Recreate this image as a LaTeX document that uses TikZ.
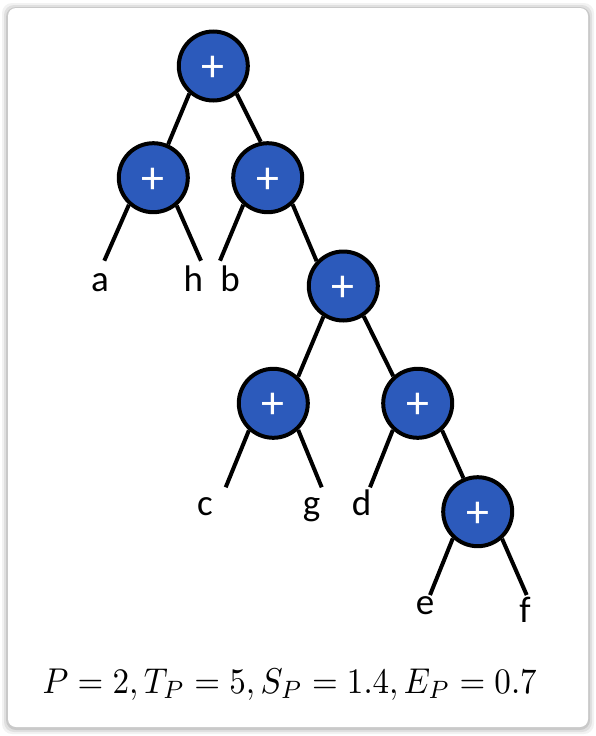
\documentclass[tikz,border=0pt]{standalone}
\usepackage{fontspec}
\setmainfont{Carlito}
\usepackage{graphicx}
\definecolor{nodeblue}{RGB}{44,90,187}
\begin{document}
\begin{tikzpicture}[x=1pt,y=-1pt,
  opnode/.style={circle,draw=black,line width=4pt,fill=nodeblue,minimum size=69pt,inner sep=0pt},
  plus/.style={text=white,inner sep=0pt,font=\fontsize{46}{46}\selectfont},
  leaf/.style={anchor=base,inner sep=0pt,font=\fontsize{37}{37}\selectfont},
  edge/.style={line width=4pt}]
\useasboundingbox (0,0) rectangle (596,736);
\fill[white] (0,0) rectangle (596,736);
% card shadow
\foreach \s/\o in {6/0.05,4/0.07,2/0.10}{
  \fill[black,opacity=\o,rounded corners=10pt] (8-\s,8-\s+1) rectangle (588+\s,727+\s+1);
}
\fill[white,rounded corners=8pt] (8,8) rectangle (588,727);
% nodes
\node[opnode] (r)  at (213.3,66)  {};
\node[opnode] (l)  at (153.3,177.7) {};
\node[opnode] (m)  at (267.7,177.7) {};
\node[opnode] (n)  at (343.3,286) {};
\node[opnode] (c)  at (273.3,403.3) {};
\node[opnode] (d)  at (417.7,403.3) {};
\node[opnode] (e)  at (477.7,511.7) {};
\foreach \k in {r,l,m,n,c,d,e}{
  \node[plus] (p\k) at ([yshift=-3pt]\k.center) {+};
}
% leaf end coordinates
\coordinate (la) at (104.3,260.7);
\coordinate (lh) at (201,260.7);
\coordinate (lb) at (220,260.7);
\coordinate (lc) at (225.7,487.3);
\coordinate (lg) at (321.7,487.3);
\coordinate (ld) at (370,487.3);
\coordinate (le) at (430,595);
\coordinate (lf) at (526.7,595);
% edges
\draw[edge] (r.229.5) -- (l.66.4);
\draw[edge] (r.310.6) -- (m.101.8);
\draw[edge] (m.313) -- (n.137.4);
\draw[edge] (n.237) -- (c.47.4);
\draw[edge] (n.304) -- (d.132.6);
\draw[edge] (d.312) -- (e.113.6);
\draw[edge] (l.228.6) -- (la);
\draw[edge] (l.310.8) -- (lh);
\draw[edge] (m.228) -- (lb);
\draw[edge] (c.228.6) -- (lc);
\draw[edge] (c.313) -- (lg);
\draw[edge] (d.227.5) -- (ld);
\draw[edge] (e.227.4) -- (le);
\draw[edge] (e.312) -- (lf);
% leaf labels
\node[leaf] (ta) at (100,291) {a};
\node[leaf] (th) at (193.3,291) {h};
\node[leaf] (tb) at (230,291) {b};
\node[leaf] (tc) at (205,515) {c};
\node[leaf] (tg) at (311.7,515) {g};
\node[leaf] (td) at (361.7,515) {d};
\node[leaf] (te) at (425,614.3) {e};
\node[leaf] (tf) at (525,622.7) {f};
% formula
\node[anchor=base west,inner sep=0pt] (eq) at (42.5,693)
  {\resizebox{494pt}{24.5pt}{$P=2, T_P=5, S_P=1.4, E_P=0.7$}};
\end{tikzpicture}
\end{document}
